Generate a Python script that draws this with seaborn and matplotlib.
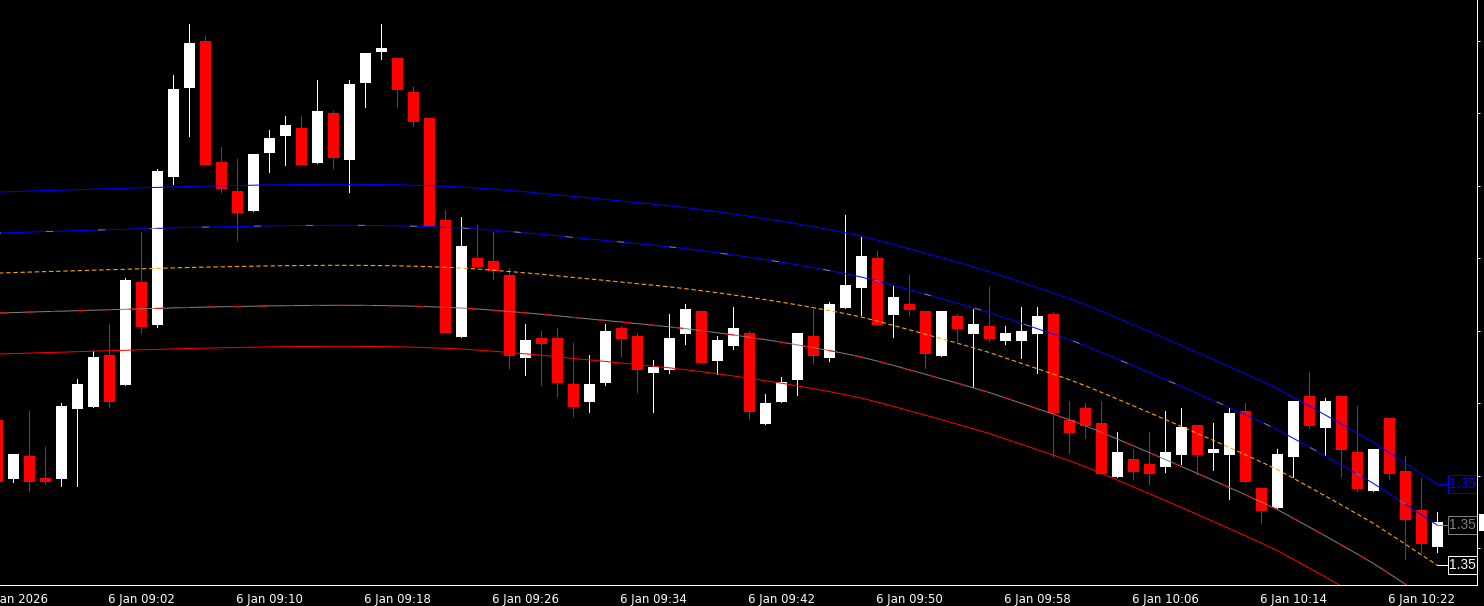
import numpy as np
import pandas as pd
import matplotlib
matplotlib.use("Agg")
import matplotlib.pyplot as plt
from matplotlib.patches import Rectangle
import seaborn as sns

# ---------------- data ----------------
start_time = "2026-01-06 08:55"   # first (partly visible) bar, 1-minute bars

open_ = [1.355580, 1.355521, 1.355544, 1.355522, 1.355521, 1.355591, 1.355593, 1.355645, 1.355615, 1.355718,
         1.355675, 1.355823, 1.355912, 1.355959, 1.355838, 1.355809, 1.355789, 1.355847, 1.355864, 1.355872,
         1.355837, 1.355887, 1.355840, 1.355917, 1.355948, 1.355942, 1.355908, 1.355882, 1.355780, 1.355663,
         1.355742, 1.355739, 1.355725, 1.355642, 1.355662, 1.355662, 1.355616, 1.355598, 1.355617, 1.355672,
         1.355664, 1.355627, 1.355630, 1.355666, 1.355689, 1.355639, 1.355654, 1.355667, 1.355576, 1.355598,
         1.355620, 1.355664, 1.355642, 1.355692, 1.355712, 1.355742, 1.355685, 1.355696, 1.355689, 1.355644,
         1.355684, 1.355666, 1.355674, 1.355659, 1.355659, 1.355666, 1.355686, 1.355580, 1.355592, 1.355577,
         1.355523, 1.355541, 1.355536, 1.355533, 1.355545, 1.355575, 1.355547, 1.355545, 1.355589, 1.355512,
         1.355492, 1.355543, 1.355604, 1.355572, 1.355604, 1.355548, 1.355509, 1.355582, 1.355529, 1.355490, 1.355453]

high = [1.355582, 1.355546, 1.355589, 1.355553, 1.355597, 1.355621, 1.355649, 1.355676, 1.355722, 1.355768,
        1.355831, 1.355925, 1.355976, 1.355964, 1.355853, 1.355841, 1.355846, 1.355870, 1.355884, 1.355884,
        1.355920, 1.355889, 1.355920, 1.355947, 1.355976, 1.355942, 1.355913, 1.355882, 1.355790, 1.355783,
        1.355775, 1.355768, 1.355732, 1.355676, 1.355669, 1.355672, 1.355657, 1.355645, 1.355676, 1.355674,
        1.355667, 1.355640, 1.355686, 1.355696, 1.355689, 1.355664, 1.355693, 1.355669, 1.355606, 1.355623,
        1.355667, 1.355691, 1.355698, 1.355785, 1.355763, 1.355749, 1.355715, 1.355725, 1.355689, 1.355689,
        1.355686, 1.355691, 1.355713, 1.355674, 1.355693, 1.355693, 1.355688, 1.355599, 1.355597, 1.355599,
        1.355568, 1.355551, 1.355568, 1.355589, 1.355592, 1.355575, 1.355577, 1.355592, 1.355597, 1.355512,
        1.355551, 1.355599, 1.355628, 1.355602, 1.355604, 1.355594, 1.355551, 1.355582, 1.355544, 1.355522, 1.355488]

low = [1.355516, 1.355518, 1.355509, 1.355516, 1.355514, 1.355514, 1.355593, 1.355593, 1.355615, 1.355667,
       1.355673, 1.355816, 1.355864, 1.355835, 1.355808, 1.355760, 1.355789, 1.355828, 1.355835, 1.355835,
       1.355837, 1.355832, 1.355808, 1.355893, 1.355941, 1.355893, 1.355874, 1.355774, 1.355667, 1.355663,
       1.355733, 1.355721, 1.355632, 1.355625, 1.355615, 1.355603, 1.355584, 1.355588, 1.355615, 1.355644,
       1.355608, 1.355588, 1.355627, 1.355656, 1.355637, 1.355626, 1.355651, 1.355581, 1.355576, 1.355598,
       1.355605, 1.355637, 1.355639, 1.355692, 1.355685, 1.355675, 1.355663, 1.355685, 1.355632, 1.355644,
       1.355659, 1.355613, 1.355659, 1.355656, 1.355642, 1.355627, 1.355543, 1.355547, 1.355562, 1.355526,
       1.355523, 1.355521, 1.355516, 1.355528, 1.355536, 1.355526, 1.355530, 1.355501, 1.355518, 1.355477,
       1.355492, 1.355523, 1.355572, 1.355545, 1.355523, 1.355509, 1.355509, 1.355521, 1.355441, 1.355448, 1.355448]

close = [1.355518, 1.355546, 1.355518, 1.355518, 1.355594, 1.355616, 1.355643, 1.355598, 1.355720, 1.355673,
         1.355829, 1.355911, 1.355957, 1.355835, 1.355811, 1.355787, 1.355846, 1.355862, 1.355875, 1.355835,
         1.355889, 1.355842, 1.355916, 1.355947, 1.355952, 1.355910, 1.355878, 1.355774, 1.355667, 1.355754,
         1.355733, 1.355729, 1.355644, 1.355660, 1.355656, 1.355617, 1.355593, 1.355616, 1.355669, 1.355661,
         1.355630, 1.355633, 1.355662, 1.355691, 1.355637, 1.355660, 1.355672, 1.355588, 1.355597, 1.355618,
         1.355667, 1.355644, 1.355696, 1.355715, 1.355744, 1.355675, 1.355703, 1.355690, 1.355646, 1.355689,
         1.355671, 1.355676, 1.355661, 1.355667, 1.355669, 1.355684, 1.355587, 1.355567, 1.355574, 1.355526,
         1.355548, 1.355528, 1.355526, 1.355548, 1.355573, 1.355545, 1.355551, 1.355587, 1.355518, 1.355489,
         1.355546, 1.355599, 1.355574, 1.355599, 1.355550, 1.355511, 1.355551, 1.355526, 1.355480, 1.355456, 1.355478]

# regression-channel centre line (one value per bar)
channel_center = [1.3557269, 1.3557274, 1.3557279, 1.3557284, 1.3557288, 1.3557293, 1.3557298, 1.3557303, 1.3557307, 1.3557312,
                  1.3557316, 1.3557321, 1.3557325, 1.3557329, 1.3557332, 1.3557335, 1.3557338, 1.3557341, 1.3557343, 1.3557345,
                  1.3557346, 1.3557347, 1.3557347, 1.3557346, 1.3557344, 1.3557342, 1.3557338, 1.3557333, 1.3557327, 1.3557320,
                  1.3557310, 1.3557298, 1.3557285, 1.3557272, 1.3557258, 1.3557242, 1.3557226, 1.3557211, 1.3557196, 1.3557180,
                  1.3557164, 1.3557148, 1.3557132, 1.3557114, 1.3557094, 1.3557073, 1.3557051, 1.3557028, 1.3557004, 1.3556979,
                  1.3556952, 1.3556924, 1.3556895, 1.3556864, 1.3556830, 1.3556790, 1.3556747, 1.3556703, 1.3556659, 1.3556614,
                  1.3556569, 1.3556523, 1.3556476, 1.3556422, 1.3556368, 1.3556314, 1.3556260, 1.3556205, 1.3556144, 1.3556078,
                  1.3556011, 1.3555943, 1.3555875, 1.3555806, 1.3555737, 1.3555667, 1.3555597, 1.3555526, 1.3555454, 1.3555381,
                  1.3555306, 1.3555219, 1.3555131, 1.3555042, 1.3554952, 1.3554861, 1.3554768, 1.3554665, 1.3554560, 1.3554455,
                  1.3554350]
inner_dev = 0.000040
outer_dev = 0.000081

price_ticks = [1.355452, 1.355524, 1.355597, 1.355669, 1.355742, 1.355814, 1.355887, 1.355959]
price_range = (1.355415, 1.356000)

date_label = "6 Jan 2026"
tick_times = ["09:02", "09:10", "09:18", "09:26", "09:34", "09:42", "09:50",
              "09:58", "10:06", "10:14", "10:22"]
tick_labels = ["6 Jan 09:02", "6 Jan 09:10", "6 Jan 09:18", "6 Jan 09:26",
               "6 Jan 09:34", "6 Jan 09:42", "6 Jan 09:50", "6 Jan 09:58", "6 Jan 10:06",
               "6 Jan 10:14", "6 Jan 10:22"]

# ---------------- style ----------------
sns.set_theme(style="dark", rc={"axes.facecolor": "black", "figure.facecolor": "black",
                                "axes.grid": False})
plt.rcParams["font.family"] = ["DejaVu Sans"]

W, H, DPI = 1484, 606, 100
AX_W, AX_H = 1477, 585
PX = 0.72  # one pixel in points

BLUE, GRAY, ORANGE, RED, WHITE = "#0000FF", "#808080", "#FFA500", "#FF0000", "#FFFFFF"

fig = plt.figure(figsize=(W / DPI, H / DPI), dpi=DPI, facecolor="black")
ax = fig.add_axes([0, (H - AX_H) / H, AX_W / W, AX_H / H])
ax.set_facecolor("black")

o = np.array(open_); h = np.array(high); l = np.array(low); c = np.array(close)
n = len(o)
x = np.arange(n)
t0 = pd.Timestamp(start_time)

# x-limits: bar spacing 16 px, first bar centred 3 px left of the window
bar_px = 16.0
x_left = 3 / bar_px
x_right = x_left + AX_W / bar_px
ax.set_xlim(x_left, x_right)
ax.set_ylim(*price_range)
unit_per_px = (price_range[1] - price_range[0]) / AX_H

# ---------------- candles ----------------
cols = np.where(c >= o, WHITE, RED)
ax.vlines(x, l, h, colors=cols, linewidth=PX, antialiased=False, zorder=3)
body_bottom = np.minimum(o, c)
body_h = np.maximum(np.abs(c - o), unit_per_px)
ax.bar(x, body_h, bottom=body_bottom, width=11 / bar_px, color=cols,
       edgecolor=cols, linewidth=0, antialiased=False, zorder=4)

# ---------------- channel lines ----------------
cen = np.array(channel_center)
bands = pd.DataFrame({
    "x": x,
    "up2": cen + outer_dev,
    "up1": cen + inner_dev,
    "mid": cen,
    "dn1": cen - inner_dev,
    "dn2": cen - outer_dev,
})
common = dict(ax=ax, estimator=None, legend=False, zorder=6)
sns.lineplot(data=bands, x="x", y="up2", color=BLUE, linewidth=PX, **common)
sns.lineplot(data=bands, x="x", y="up1", color=BLUE, linewidth=PX, **common)
sns.lineplot(data=bands, x="x", y="up1", color=GRAY, linewidth=PX,
             linestyle=(5, (7, 45)), **common)
sns.lineplot(data=bands, x="x", y="mid", color=ORANGE, linewidth=PX * 1.1,
             linestyle=(0, (4, 2.5)), **common)
sns.lineplot(data=bands, x="x", y="dn1", color=GRAY, linewidth=PX, **common)
sns.lineplot(data=bands, x="x", y="dn1", color=RED, linewidth=PX,
             linestyle=(0, (9, 17)), **common)
sns.lineplot(data=bands, x="x", y="dn2", color=RED, linewidth=PX, **common)

# value labels at the right end of the lines
last = x[-1]
box_x = last + 11 / bar_px
box_h = 18 * unit_per_px
for val, col in [(bands["up2"].iloc[-1], BLUE), (bands["up1"].iloc[-1], GRAY),
                 (bands["mid"].iloc[-1], WHITE)]:
    ax.plot([last, box_x], [val, val], color=col, linewidth=PX, antialiased=False, zorder=6)
    ax.add_patch(Rectangle((box_x, val - box_h / 2), 5, box_h, facecolor="black",
                           edgecolor=col, linewidth=PX, zorder=7, clip_on=True))
    ax.text(box_x + 1.5 / bar_px, val, f"{val:.5f}"[:4], color=col, fontsize=10,
            family="Liberation Sans", ha="left", va="center", zorder=8, clip_on=True)

# bid label on price scale (mostly off-canvas)
bid_h = 17 * unit_per_px
ax.add_patch(Rectangle((1 + 1.5 / AX_W, c[-1] - bid_h / 2), 0.05, bid_h,
                       transform=ax.get_yaxis_transform(), facecolor=WHITE,
                       edgecolor=WHITE, linewidth=0, clip_on=False, zorder=8))

# ---------------- axes ----------------
for side in ["top", "left"]:
    ax.spines[side].set_visible(False)
for side in ["bottom", "right"]:
    ax.spines[side].set_color(WHITE)
    ax.spines[side].set_linewidth(PX)

tick_pos = [(pd.Timestamp(f"2026-01-06 {t}") - t0) / pd.Timedelta(minutes=1) for t in tick_times]
ax.set_xticks(tick_pos)
ax.set_xticklabels([])
ax.tick_params(axis="x", direction="out", length=3 * PX, width=PX, color=WHITE, pad=0)

ax.yaxis.tick_right()
ax.set_yticks(price_ticks)
ax.set_yticklabels([])
ax.tick_params(axis="y", direction="out", length=3 * PX, width=PX, color=WHITE, pad=0,
               left=False, right=True)

label_style = dict(ha="left", va="baseline", color=WHITE, fontsize=8.5, annotation_clip=False)
# date label anchored at the left edge of the window
ax.annotate(date_label, xy=(0, 0), xycoords="axes fraction",
            xytext=(-15 * PX, -18 * PX), textcoords="offset points", **label_style)
for p, lab in zip(tick_pos, tick_labels):
    ax.annotate(lab, xy=(p, 0), xycoords=("data", "axes fraction"),
                xytext=(-1 * PX, -18 * PX), textcoords="offset points", **label_style)

ax.set_xlabel("")
ax.set_ylabel("")
fig.savefig("out.png", dpi=DPI, facecolor="black")
